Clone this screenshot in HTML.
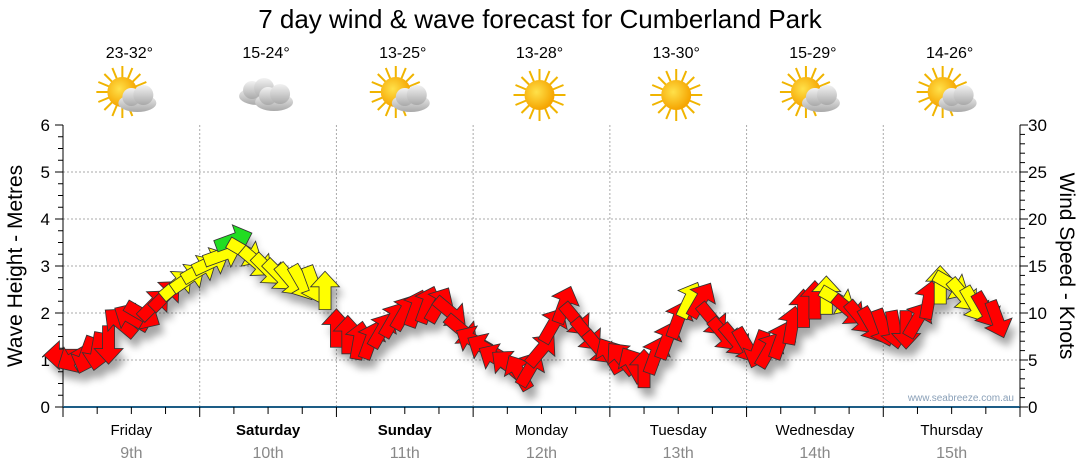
<!DOCTYPE html>
<html><head><meta charset="utf-8">
<style>
body{margin:0;background:#fff;font-family:"Liberation Sans","DejaVu Sans",sans-serif;}
svg{display:block}
</style></head>
<body>
<svg id="chart" width="1080" height="475" viewBox="0 0 1080 475" xmlns="http://www.w3.org/2000/svg">
<defs>
<filter id="sh" x="-50%" y="-50%" width="200%" height="200%"><feGaussianBlur stdDeviation="4"/></filter>
<radialGradient id="sunG" cx="40%" cy="40%" r="60%"><stop offset="0" stop-color="#ffe14a"/><stop offset="1" stop-color="#f5a400"/></radialGradient>
<linearGradient id="cloudG" x1="0" y1="0" x2="0" y2="1"><stop offset="0" stop-color="#f2f2f2"/><stop offset="1" stop-color="#a9a9a9"/></linearGradient>
<g id="sunIcon"><g stroke="#f0b400" stroke-width="2"><line x1="0" y1="-26" x2="0" y2="26"/><line x1="-26" y1="0" x2="26" y2="0"/><line x1="-18" y1="-18" x2="18" y2="18"/><line x1="-18" y1="18" x2="18" y2="-18"/><line x1="-10" y1="-24" x2="10" y2="24"/><line x1="-24" y1="-10" x2="24" y2="10"/><line x1="-24" y1="10" x2="24" y2="-10"/><line x1="-10" y1="24" x2="10" y2="-24"/></g><circle r="15" fill="url(#sunG)"/></g>
<g id="cloudIcon"><ellipse cx="0" cy="4" rx="19" ry="9" fill="url(#cloudG)"/><circle cx="-6" cy="-2" r="9" fill="url(#cloudG)"/><circle cx="6" cy="-4" r="10" fill="url(#cloudG)"/></g>
</defs>
<text x="540" y="28" text-anchor="middle" font-size="26" fill="#000">7 day wind &amp; wave forecast for Cumberland Park</text>
<g id="grid"></g>
<g id="axes"></g>
<g id="header"></g>
<g id="shadows" filter="url(#sh)" opacity="0.35"></g>
<g id="arrows"></g>
<text transform="translate(22,266) rotate(-90)" text-anchor="middle" font-size="21">Wave Height - Metres</text>
<text transform="translate(1060,266) rotate(90)" text-anchor="middle" font-size="21">Wind Speed - Knots</text>
<text x="1014" y="401" text-anchor="end" font-size="10" fill="#8aa0b8">www.seabreeze.com.au</text>
</svg>
<script>
const days=["Friday","Saturday","Sunday","Monday","Tuesday","Wednesday","Thursday"];
const dates=["9th","10th","11th","12th","13th","14th","15th"];
const boldDays=[false,true,true,false,false,false,false];
const temps=["23-32°","15-24°","13-25°","13-28°","13-30°","15-29°","14-26°"];
const icons=["partly","cloudy","partly","sunny","sunny","partly","partly"];
const waveTicks=[0,1,2,3,4,5,6];
const windTicks=[0,5,10,15,20,25,30];
// wind series: hour offset, speed (knots), direction (degrees screen, 0=up), colour class
const windHours=[0,2,4,6,8,10,12,14,16,18,20,22,24,26,28,30,32,34,36,38,40,42,44,46,48,50,52,54,56,58,60,62,64,66,68,70,72,74,76,78,80,82,84,86,88,90,92,94,96,98,100,102,104,106,108,110,112,114,116,118,120,122,124,126,128,130,132,134,136,138,140,142,144,146,148,150,152,154,156,158,160,162,164];
const windSpeed=[5.5,5.2,5.5,5.9,6.6,9.0,9.5,9.8,10.9,11.9,13.0,13.7,14.6,15.4,16.2,17.8,16.5,15.4,14.6,14.0,13.5,13.2,13.0,12.4,8.4,7.7,7.1,7.1,8.2,9.3,10.1,10.5,10.9,10.9,10.1,8.2,7.1,6.3,5.2,4.5,3.7,4.1,6.1,8.7,10.9,9.3,7.7,6.3,5.5,5.2,4.5,4.1,5.5,7.1,9.3,11.4,11.4,9.3,7.7,7.1,6.5,6.1,6.1,7.1,8.7,10.5,11.4,11.9,11.4,10.3,9.5,8.7,8.4,8.2,8.2,9.3,11.4,13.0,13.0,11.9,10.9,10.3,9.3];
const windDir=[270,240,200,190,180,310,300,120,45,45,50,55,60,65,70,70,120,130,135,135,140,150,160,0,0,0,10,20,30,30,30,20,20,30,130,130,300,300,300,310,330,30,40,30,20,140,140,140,330,320,330,0,20,20,20,25,30,140,140,140,150,200,30,20,10,0,0,0,120,130,140,150,160,170,180,30,10,0,120,140,150,150,160];
const windCol=["r","r","r","r","r","r","r","r","r","r","y","y","y","y","y","g","y","y","y","y","y","y","y","y","r","r","r","r","r","r","r","r","r","r","r","r","r","r","r","r","r","r","r","r","r","r","r","r","r","r","r","r","r","r","r","y","r","r","r","r","r","r","r","r","r","r","r","y","y","r","r","r","r","r","r","r","r","y","y","y","y","r","r"];

const NS="http://www.w3.org/2000/svg";
const X0=63,X1=1020,Y0=407,Y1=125;
const xH=h=>X0+h/168*(X1-X0);
const yW=m=>Y0-m/6*(Y0-Y1);
const yK=k=>Y0-k/30*(Y0-Y1);
function mk(tag,attrs,parent){const e=document.createElementNS(NS,tag);for(const k in attrs)e.setAttribute(k,attrs[k]);parent.appendChild(e);return e;}
const grid=document.getElementById('grid'),axes=document.getElementById('axes'),header=document.getElementById('header');
waveTicks.forEach(v=>{if(v>0&&v<6){const l=mk('line',{x1:X0,x2:X1,y1:yW(v),y2:yW(v),stroke:'#aaa','stroke-dasharray':'2,2'},grid);

}});
for(let d=1;d<7;d++){const l=mk('line',{x1:xH(d*24),x2:xH(d*24),y1:Y1,y2:Y0,stroke:'#aaa','stroke-dasharray':'2,2'},grid);

}
mk('line',{x1:X0,x2:X0,y1:Y1,y2:Y0,stroke:'#000'},axes);
for(let i=0;i<=24;i++){const y=yW(i/4);mk('line',{x1:i%4==0?X0-8:X0-5,x2:X0,y1:y,y2:y,stroke:'#000'},axes);}
waveTicks.forEach(v=>{const t=mk('text',{x:50,y:yW(v)+6,'text-anchor':'end','font-size':17},axes);t.textContent=v;

});
mk('line',{x1:X1,x2:X1,y1:Y1,y2:Y0,stroke:'#000'},axes);
for(let i=0;i<=30;i++){const y=yK(i);mk('line',{x1:X1,x2:i%5==0?X1+8:X1+5,y1:y,y2:y,stroke:'#000'},axes);}
windTicks.forEach(v=>{const t=mk('text',{x:1028,y:yK(v)+6,'font-size':17},axes);t.textContent=v;

});
mk('line',{x1:X0,x2:X1,y1:Y0,y2:Y0,stroke:'#1d5d86','stroke-width':2},axes);
for(let h=0;h<=168;h+=6){mk('line',{x1:xH(h),x2:xH(h),y1:Y0,y2:Y0+(h%24==0?10:7),stroke:'#000'},axes);}
days.forEach((d,i)=>{const cx=xH(i*24+12);
const t=mk('text',{x:cx,y:435,'text-anchor':'middle','font-size':15,'font-weight':boldDays[i]?'bold':'normal'},axes);t.textContent=d;


const t2=mk('text',{x:cx,y:458,'text-anchor':'middle','font-size':16,fill:'#888'},axes);t2.textContent=dates[i];


const t3=mk('text',{x:cx-2,y:58,'text-anchor':'middle','font-size':16},header);t3.textContent=temps[i];


const g=mk('g',{transform:`translate(${cx-2},95)`},header);


if(icons[i]=='sunny'){mk('use',{href:'#sunIcon'},g);}
else if(icons[i]=='cloudy'){mk('use',{href:'#cloudIcon',transform:'translate(-8,-3)'},g);mk('use',{href:'#cloudIcon',transform:'translate(8,3)'},g);}
else{mk('use',{href:'#sunIcon',transform:'translate(-7,-3)'},g);mk('use',{href:'#cloudIcon',transform:'translate(8,4)'},g);}
});
const cols={r:'#ff0000',y:'#ffff00',g:'#22dd22'};
const path="M0,-16 L12,-3 L5,-3 L5,16 L-5,16 L-5,-3 L-12,-3 Z";
const S=1.2;
const sh=document.getElementById('shadows'),ar=document.getElementById('arrows');
windHours.forEach((h,i)=>{const x=xH(h),y=yK(windSpeed[i]);
mk('path',{d:path,fill:'#000',transform:`translate(${x+5},${y+9}) rotate(${windDir[i]}) scale(${S})`},sh);
const p=mk('path',{d:path,fill:cols[windCol[i]],stroke:'#333','stroke-width':0.7,transform:`translate(${x},${y}) rotate(${windDir[i]}) scale(${S})`},ar);


});
</script>
</body></html>
